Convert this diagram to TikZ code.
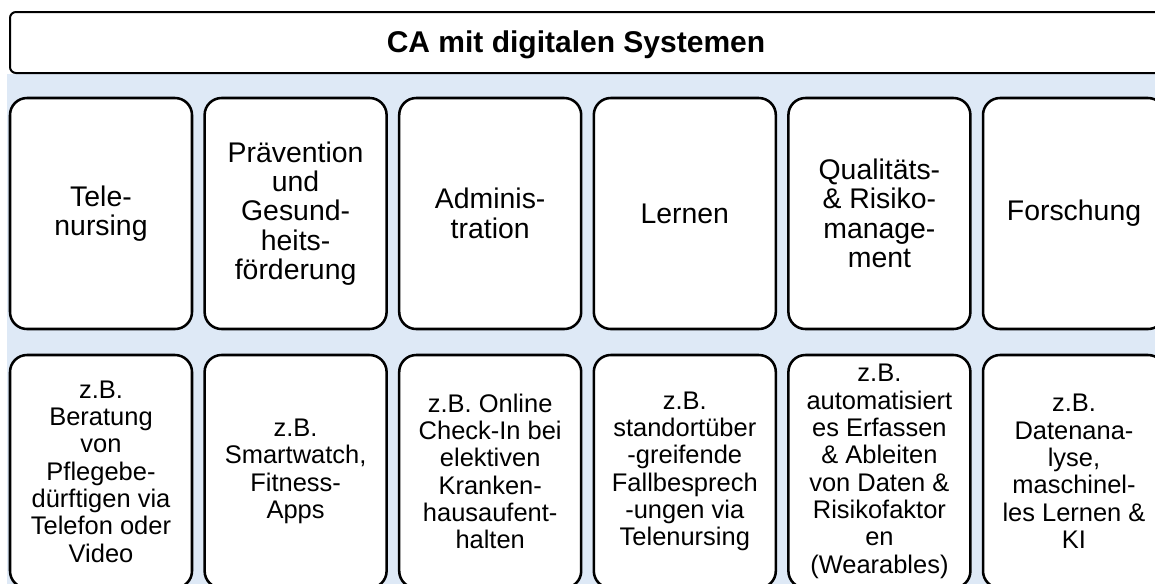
\documentclass[tikz,border=0pt]{standalone}
\usepackage{fontspec}
\setmainfont{Liberation Sans}
\definecolor{bgblue}{RGB}{222,233,246}
\begin{document}
\begin{tikzpicture}[x=0.75pt,y=-0.75pt,
  titlebox/.style={draw=black,line width=1.5pt,fill=white,rounded corners=4.5pt},
  colbox/.style={draw=black,line width=1.9pt,fill=white,rounded corners=12.75pt,
    minimum width=136.5pt,inner sep=0pt,align=center},
  topbox/.style={colbox,minimum height=173.25pt,font=\fontsize{21.3}{22}\selectfont},
  botbox/.style={colbox,minimum height=174.75pt,font=\fontsize{19.1}{20.5}\selectfont},
  titletext/.style={font=\bfseries\fontsize{22.5}{27}\selectfont,inner sep=0pt}]
\useasboundingbox (0,0) rectangle (1155,583);
\clip (0,0) rectangle (1155,583);
% background
\fill[bgblue] (7,74) rectangle (1180,600);
% title
\draw[titlebox] (10,12) rectangle (1180,73);
\node[titletext,anchor=base] (title) at (576,52) {CA mit digitalen Systemen};
% top row
\node[topbox] (t1) at (101,213.5) {Tele-\\nursing};
\node[topbox] (t2) at (295.6,213.5) {Prävention\\und\\Gesund-\\heits-\\förderung};
\node[topbox] (t3) at (490.2,213.5) {Adminis-\\tration};
\node[topbox] (t4) at (684.8,213.5) {Lernen};
\node[topbox] (t5) at (879.4,213.5) {Qualitäts-\\\& Risiko-\\manage-\\ment};
\node[topbox] (t6) at (1074,213.5) {Forschung};
% bottom row
\node[botbox] (b1) at (101,471.5) {z.B.\\Beratung\\von\\Pflegebe-\\dürftigen via\\Telefon oder\\Video};
\node[botbox] (b2) at (295.6,471.5) {z.B.\\Smartwatch,\\Fitness-\\Apps};
\node[botbox] (b3) at (490.2,471.5) {z.B. Online\\Check-In bei\\elektiven\\Kranken-\\hausaufent-\\halten};
\node[botbox] (b4) at (684.8,471.5) {z.B.\\standortüber\\-greifende\\Fallbesprech\\-ungen via\\Telenursing};
\node[botbox] (b5) at (879.4,471.5) {z.B.\\automatisiert\\es Erfassen\\\& Ableiten\\von Daten \&\\Risikofaktor\\en\\(Wearables)};
\node[botbox] (b6) at (1074,471.5) {z.B.\\Datenana-\\lyse,\\maschinel-\\les Lernen \&\\KI};
\end{tikzpicture}
\end{document}
